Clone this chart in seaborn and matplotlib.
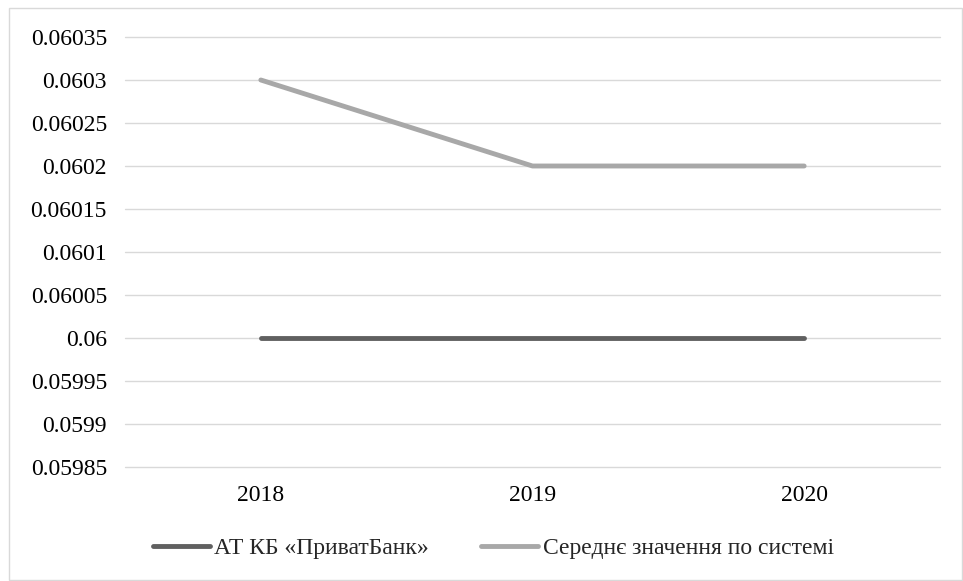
import matplotlib
matplotlib.use("Agg")
import matplotlib.pyplot as plt
import seaborn as sns
import pandas as pd
from matplotlib.patches import Rectangle

years = ["2018", "2019", "2020"]
privat = [0.0600, 0.0600, 0.0600]
avg_system = [0.0603, 0.0602, 0.0602]
series_names = ["АТ КБ «ПриватБанк»", "Середнє значення по системі"]
yticks = [0.05985, 0.0599, 0.05995, 0.06, 0.06005, 0.0601, 0.06015, 0.0602, 0.06025, 0.0603, 0.06035]
ytick_labels = ["0.05985", "0.0599", "0.05995", "0.06", "0.06005", "0.0601", "0.06015", "0.0602", "0.06025", "0.0603", "0.06035"]

sns.set_theme(style="white")
FONT = ['Liberation Serif', 'DejaVu Serif']
plt.rcParams['font.family'] = FONT
FS = 17

df = pd.DataFrame({
    "year": years * 2,
    "value": privat + avg_system,
    "series": [series_names[0]] * 3 + [series_names[1]] * 3,
})

fig = plt.figure(figsize=(9.63, 5.81), dpi=100)
fig.patches.append(Rectangle((9 / 963, 1 / 581), 953 / 963, 572 / 581, transform=fig.transFigure,
                             fill=False, edgecolor="#d9d9d9", linewidth=1.0))
ax = fig.add_axes([125 / 963, 1 - 467 / 581, 815 / 963, 430 / 581])

sns.lineplot(data=df, x="year", y="value", hue="series",
             palette=["#606060", "#a8a8a8"], linewidth=3.5, ax=ax,
             solid_capstyle="round", sort=False)

ax.set_xlim(-0.5, 2.5)
ax.set_ylim(0.05985, 0.06035)
ax.set_yticks(yticks)
ax.set_yticklabels(ytick_labels, fontfamily=FONT, fontsize=FS)
ax.set_xticks(range(len(years)))
ax.set_xticklabels(years, fontfamily=FONT, fontsize=FS)
ax.grid(axis="y", color="#d9d9d9", linewidth=1.0)
for gl in ax.get_ygridlines():
    gl.set_clip_on(False)
ax.set_axisbelow(True)
for s in ax.spines.values():
    s.set_visible(False)
ax.tick_params(axis="both", length=0, colors="black")
ax.tick_params(axis="x", pad=13)
ax.tick_params(axis="y", pad=13)
ax.set_xlabel("")
ax.set_ylabel("")

handles, labels = ax.get_legend_handles_labels()
ax.legend(handles, labels, loc="center", bbox_to_anchor=(0.452, -0.19), ncol=2,
          frameon=False, prop={"family": FONT, "size": FS}, handlelength=2.4,
          handletextpad=0.2, columnspacing=2.2)

fig.savefig("out.png", dpi=100)
